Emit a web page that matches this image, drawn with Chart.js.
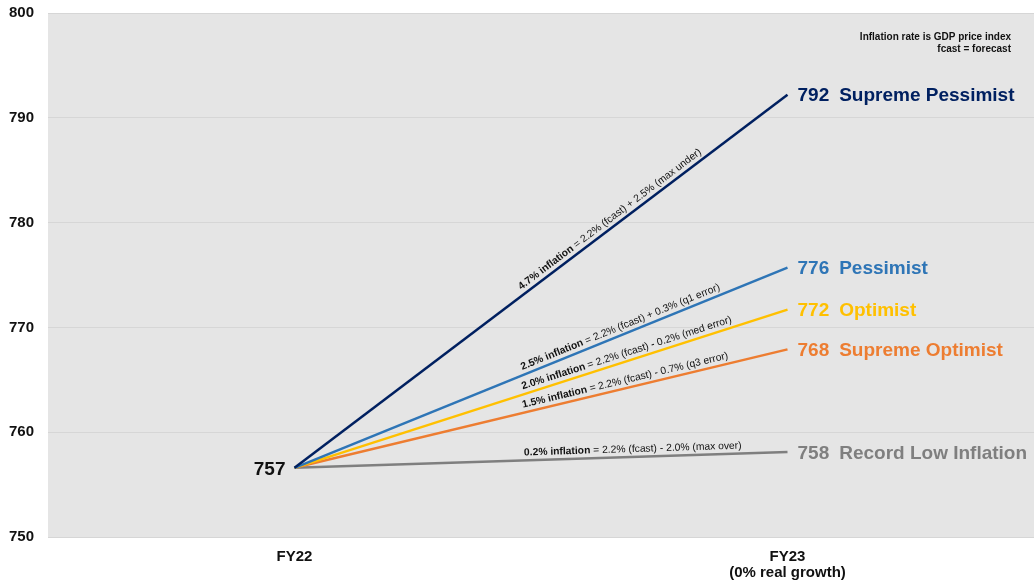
<!DOCTYPE html>
<html>
<head>
<meta charset="utf-8">
<script src="https://cdn.jsdelivr.net/npm/chart.js@4.4.1/dist/chart.umd.min.js"></script>
<style>
html,body{margin:0;padding:0;background:#fff;}
#wrap{width:1034px;height:582px;}
</style>
</head>
<body>
<div id="wrap"><canvas id="c" width="1034" height="582"></canvas></div>
<script>
// ---- data ----
const categories = [["FY22"], ["FY23", "(0% real growth)"]];
const scenarioNames = ["Supreme Pessimist", "Pessimist", "Optimist", "Supreme Optimist", "Record Low Inflation"];
const startValue = 756.6;
const endValues = [792.2, 775.7, 771.7, 767.9, 758.1];
const rateLabels = ["4.7% inflation", "2.5% inflation", "2.0% inflation", "1.5% inflation", "0.2% inflation"];
const rateDetails = [
  " = 2.2% (fcast) + 2.5% (max under)",
  " = 2.2% (fcast) + 0.3% (q1 error)",
  " = 2.2% (fcast) - 0.2% (med error)",
  " = 2.2% (fcast) - 0.7% (q3 error)",
  " = 2.2% (fcast) - 2.0% (max over)"
];
const yTicks = [750, 760, 770, 780, 790, 800];
const noteLines = ["Inflation rate is GDP price index", "fcast = forecast"];
const colors = ["#002060", "#2E75B6", "#FFC000", "#ED7D31", "#7F7F7F"];

const FONT = "'Liberation Sans', Arial, sans-serif";

const datasets = scenarioNames.map((n, i) => ({
  label: n,
  data: [startValue, endValues[i]],
  borderColor: colors[i],
  backgroundColor: colors[i],
  borderWidth: 2.5,
  pointRadius: 0,
  tension: 0
}));
const bgPlugin = {
  id: 'bg',
  beforeDraw(chart) {
    const {ctx, chartArea: a} = chart;
    ctx.save();
    ctx.fillStyle = '#e5e5e5';
    ctx.fillRect(a.left, a.top, a.right - a.left, a.bottom - a.top);
    ctx.restore();
  }
};
const annoPlugin = {
  id: 'anno',
  afterDatasetsDraw(chart) {
    const ctx = chart.ctx;
    ctx.save();
    chart.data.datasets.forEach((ds, i) => {
      const pts = chart.getDatasetMeta(i).data;
      const p0 = pts[0], p1 = pts[1];
      const ang = Math.atan2(p1.y - p0.y, p1.x - p0.x);
      const t = 0.466;
      const sx = p0.x + t * (p1.x - p0.x);
      const sy = p0.y + t * (p1.y - p0.y);
      ctx.save();
      ctx.translate(sx, sy);
      ctx.rotate(ang);
      ctx.fillStyle = '#111';
      ctx.textBaseline = 'alphabetic';
      ctx.textAlign = 'left';
      ctx.font = "bold 10.3px " + FONT;
      ctx.fillText(rateLabels[i], 0, -5);
      const w = ctx.measureText(rateLabels[i]).width;
      ctx.font = "10.3px " + FONT;
      ctx.fillText(rateDetails[i], w, -5);
      ctx.restore();
      ctx.fillStyle = colors[i];
      ctx.font = "bold 19px " + FONT;
      ctx.textBaseline = 'middle';
      ctx.textAlign = 'left';
      const v = String(Math.round(ds.data[1]));
      ctx.fillText(v, p1.x + 10, p1.y + 1.5);
      const vw = ctx.measureText(v).width;
      ctx.fillText(ds.label, p1.x + 10 + vw + 10, p1.y + 1.5);
    });
    const s = chart.getDatasetMeta(0).data[0];
    ctx.fillStyle = '#111';
    ctx.font = "bold 19px " + FONT;
    ctx.textAlign = 'right';
    ctx.textBaseline = 'middle';
    ctx.fillText(String(Math.round(startValue)), s.x - 9, s.y + 2);
    ctx.font = "bold 10px " + FONT;
    ctx.textAlign = 'right';
    noteLines.forEach((l, k) => ctx.fillText(l, 1011, 37 + k * 12));
    ctx.restore();
  }
};

new Chart(document.getElementById('c'), {
  type: 'line',
  data: { labels: categories, datasets: datasets },
  options: {
    responsive: false,
    animation: false,
    devicePixelRatio: 1,
    layout: { padding: { left: 0, right: 0, top: 13, bottom: 0 } },
    plugins: { legend: { display: false }, tooltip: { enabled: false } },
    scales: {
      x: {
        type: 'category',
        offset: true,
        grid: { display: false, drawTicks: false },
        border: { display: false },
        ticks: { color: '#111', font: { family: FONT, size: 15, weight: 'bold', lineHeight: 1.07 }, padding: 12, maxRotation: 0 },
        afterFit(axis) { axis.height = 45; axis.paddingLeft = 0; axis.paddingRight = 0; }
      },
      y: {
        min: 750, max: 800,
        afterBuildTicks(axis) { axis.ticks = yTicks.map(v => ({ value: v })); },
        grid: { color: '#d6d6d6', lineWidth: 1, drawTicks: false },
        border: { display: false },
        ticks: { color: '#111', font: { family: FONT, size: 15, weight: 'bold' }, padding: 14 },
        afterFit(axis) { axis.width = 48; axis.paddingTop = 0; axis.paddingBottom = 0; }
      }
    }
  },
  plugins: [bgPlugin, annoPlugin]
});
</script>
</body>
</html>
